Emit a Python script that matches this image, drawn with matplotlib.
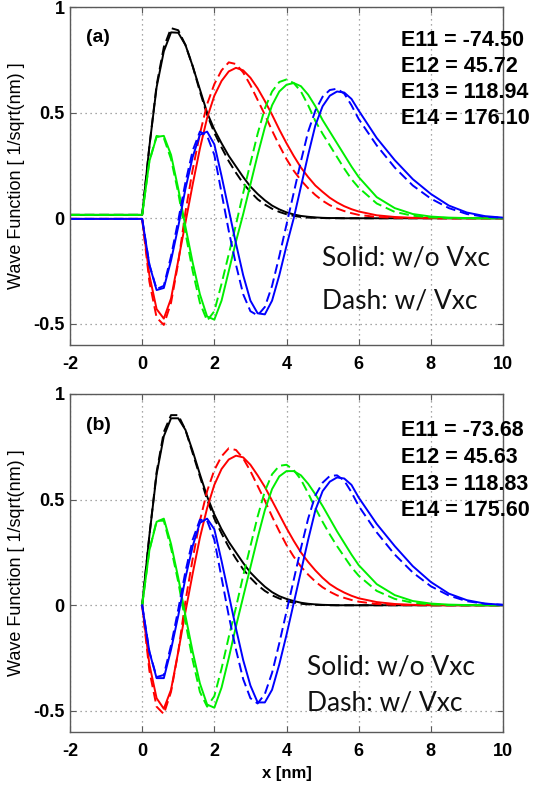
import matplotlib
matplotlib.use("Agg")
import matplotlib.pyplot as plt

# ---------------- data ----------------
x_a = [-2, 0, 0.2, 0.4, 0.6, 0.8, 1.0, 1.2, 1.4, 1.6, 1.8, 2.0, 2.2, 2.4, 2.6, 2.8,
       3.0, 3.2, 3.4, 3.6, 3.8, 4.0, 4.2, 4.4, 4.6, 4.8, 5.0, 5.2, 5.4, 5.6, 5.8,
       6.0, 6.5, 7.0, 7.5, 8.0, 8.5, 9.0, 9.5, 10.0]
x_b = x_a[1:]

# panel (a)  solid = w/o Vxc, dash = w/ Vxc
black_solid_a = [0.016, 0.016, 0.34, 0.62, 0.79, 0.88, 0.878, 0.82, 0.72, 0.61, 0.50, 0.42, 0.355,
                 0.295, 0.245, 0.195, 0.15, 0.115, 0.085, 0.06, 0.042, 0.028, 0.018, 0.011, 0.007,
                 0.004, 0.002, 0.001, 0.001, 0, 0, 0, 0, 0, 0, 0, 0, 0, 0, 0]
black_dash_a = [0.016, 0.016, 0.34, 0.63, 0.81, 0.90, 0.89, 0.82, 0.72, 0.60, 0.49, 0.405, 0.335,
                0.27, 0.215, 0.165, 0.125, 0.09, 0.065, 0.045, 0.03, 0.019, 0.011, 0.006, 0.003,
                0.002, 0.001, 0, 0, 0, 0, 0, 0, 0, 0, 0, 0, 0, 0, 0]
red_solid_a = [-0.003, -0.003, -0.27, -0.43, -0.475, -0.38, -0.20, -0.02, 0.16, 0.33, 0.475, 0.58,
               0.65, 0.695, 0.712, 0.70, 0.665, 0.615, 0.555, 0.49, 0.42, 0.355, 0.295, 0.24, 0.195,
               0.155, 0.125, 0.097, 0.075, 0.057, 0.043, 0.032, 0.014, 0.006, 0.002, 0.001, 0, 0, 0, 0]
red_dash_a = [-0.003, -0.003, -0.30, -0.47, -0.505, -0.40, -0.21, 0.03, 0.23, 0.40, 0.54, 0.635,
              0.70, 0.738, 0.73, 0.69, 0.63, 0.56, 0.49, 0.415, 0.345, 0.28, 0.225, 0.18, 0.142,
              0.11, 0.083, 0.062, 0.046, 0.034, 0.024, 0.016, 0.006, 0.002, 0.001, 0, 0, 0, 0, 0]
green_solid_a = [0.016, 0.016, 0.27, 0.385, 0.39, 0.30, 0.14, -0.04, -0.21, -0.36, -0.465, -0.48,
                 -0.39, -0.25, -0.11, 0.02, 0.16, 0.30, 0.43, 0.535, 0.60, 0.632, 0.64, 0.625,
                 0.585, 0.53, 0.465, 0.41, 0.355, 0.30, 0.245, 0.195, 0.10, 0.048, 0.02, 0.008,
                 0.003, 0.001, 0, 0]
green_dash_a = [0.016, 0.016, 0.27, 0.39, 0.38, 0.28, 0.12, -0.07, -0.25, -0.40, -0.485, -0.44,
                -0.31, -0.17, -0.03, 0.12, 0.26, 0.40, 0.52, 0.60, 0.645, 0.657, 0.64, 0.60,
                0.535, 0.46, 0.40, 0.345, 0.29, 0.235, 0.185, 0.145, 0.07, 0.03, 0.012, 0.004,
                0.001, 0, 0, 0]
blue_solid_a = [-0.003, -0.003, -0.22, -0.34, -0.33, -0.20, -0.04, 0.14, 0.29, 0.395, 0.41, 0.35,
                0.20, 0.04, -0.12, -0.27, -0.39, -0.45, -0.455, -0.39, -0.27, -0.13, 0.0, 0.15,
                0.30, 0.44, 0.53, 0.58, 0.60, 0.595, 0.565, 0.51, 0.38, 0.275, 0.185, 0.115,
                0.06, 0.027, 0.01, 0.003]
blue_dash_a = [-0.003, -0.003, -0.22, -0.335, -0.32, -0.18, -0.01, 0.17, 0.32, 0.41, 0.39, 0.30,
               0.12, -0.06, -0.22, -0.36, -0.44, -0.46, -0.42, -0.32, -0.18, -0.03, 0.12, 0.27,
               0.41, 0.51, 0.575, 0.607, 0.613, 0.59, 0.535, 0.47, 0.345, 0.24, 0.155, 0.093,
               0.048, 0.02, 0.007, 0.002]

# panel (b)
black_solid_b = [0, 0.33, 0.62, 0.80, 0.885, 0.885, 0.83, 0.73, 0.62, 0.515, 0.43, 0.36, 0.30,
                 0.25, 0.20, 0.155, 0.12, 0.088, 0.062, 0.043, 0.03, 0.02, 0.012, 0.007, 0.004,
                 0.002, 0.001, 0, 0, 0, 0, 0, 0, 0, 0, 0, 0, 0, 0]
black_dash_b = [0, 0.33, 0.63, 0.82, 0.90, 0.90, 0.83, 0.72, 0.61, 0.50, 0.41, 0.34, 0.275,
                0.22, 0.17, 0.13, 0.095, 0.068, 0.047, 0.032, 0.02, 0.012, 0.007, 0.004, 0.002,
                0.001, 0, 0, 0, 0, 0, 0, 0, 0, 0, 0, 0, 0, 0]
red_solid_b = [0, -0.28, -0.44, -0.49, -0.40, -0.22, -0.03, 0.15, 0.32, 0.46, 0.57, 0.645, 0.69,
               0.708, 0.70, 0.665, 0.615, 0.56, 0.495, 0.43, 0.365, 0.305, 0.25, 0.205, 0.165,
               0.13, 0.10, 0.078, 0.06, 0.045, 0.033, 0.015, 0.006, 0.002, 0.001, 0, 0, 0, 0]
red_dash_b = [0, -0.31, -0.48, -0.515, -0.41, -0.22, 0.02, 0.22, 0.40, 0.54, 0.64, 0.705, 0.743,
              0.735, 0.695, 0.635, 0.565, 0.495, 0.42, 0.35, 0.285, 0.23, 0.183, 0.145, 0.112,
              0.085, 0.064, 0.047, 0.035, 0.025, 0.017, 0.006, 0.002, 0.001, 0, 0, 0, 0, 0]
green_solid_b = [0, 0.26, 0.395, 0.41, 0.29, 0.13, -0.05, -0.22, -0.37, -0.47, -0.485, -0.39,
                 -0.25, -0.10, 0.04, 0.18, 0.32, 0.45, 0.55, 0.61, 0.635, 0.635, 0.615, 0.575,
                 0.525, 0.47, 0.41, 0.35, 0.295, 0.24, 0.19, 0.10, 0.048, 0.02, 0.008, 0.003,
                 0.001, 0, 0]
green_dash_b = [0, 0.26, 0.40, 0.40, 0.27, 0.11, -0.08, -0.26, -0.41, -0.48, -0.43, -0.30, -0.15,
                -0.01, 0.14, 0.28, 0.42, 0.54, 0.62, 0.66, 0.665, 0.64, 0.595, 0.53, 0.46, 0.395,
                0.335, 0.28, 0.23, 0.18, 0.14, 0.068, 0.03, 0.012, 0.004, 0.001, 0, 0, 0]
blue_solid_b = [0, -0.22, -0.345, -0.345, -0.21, -0.05, 0.13, 0.28, 0.39, 0.41, 0.36, 0.21, 0.05,
                -0.11, -0.26, -0.38, -0.46, -0.46, -0.40, -0.28, -0.14, 0.01, 0.16, 0.31, 0.45,
                0.54, 0.585, 0.605, 0.60, 0.57, 0.51, 0.385, 0.28, 0.185, 0.11, 0.055, 0.024,
                0.008, 0.002]
blue_dash_b = [0, -0.22, -0.34, -0.33, -0.19, -0.02, 0.16, 0.31, 0.405, 0.40, 0.31, 0.13, -0.05,
               -0.21, -0.35, -0.44, -0.465, -0.42, -0.32, -0.18, -0.03, 0.12, 0.27, 0.41, 0.52,
               0.58, 0.612, 0.615, 0.59, 0.535, 0.47, 0.345, 0.24, 0.155, 0.09, 0.046, 0.019,
               0.007, 0.002]

energies_a = ["E11 = -74.50", "E12 = 45.72", "E13 = 118.94", "E14 = 176.10"]
energies_b = ["E11 = -73.68", "E12 = 45.63", "E13 = 118.83", "E14 = 175.60"]
panel_tags = ["(a)", "(b)"]
x_ticks = [-2, 0, 2, 4, 6, 8, 10]
y_ticks = [-0.5, 0, 0.5, 1]
y_tick_labels = ["-0.5", "0", "0.5", "1"]
legend_lines = ["Solid: w/o Vxc", "Dash: w/ Vxc"]

colors = {"black": "black", "red": "#ff0000", "green": "#00ee00", "blue": "#0000ff"}

# ---------------- figure ----------------
W, H = 539, 785
plt.rcParams['font.family'] = ['Liberation Sans', 'DejaVu Sans']
plt.rcParams['axes.unicode_minus'] = False
fig = plt.figure(figsize=(W / 100, H / 100), dpi=100)

def px_axes(left, top, right, bottom):
    return fig.add_axes([left / W, 1 - bottom / H, (right - left) / W, (bottom - top) / H])

ax_a = px_axes(70, 7, 503, 345)
ax_b = px_axes(70, 394, 503, 732)

panels = [
    (ax_a, x_a, [(black_solid_a, black_dash_a, "black"), (red_solid_a, red_dash_a, "red"),
                 (green_solid_a, green_dash_a, "green"), (blue_solid_a, blue_dash_a, "blue")]),
    (ax_b, x_b, [(black_solid_b, black_dash_b, "black"), (red_solid_b, red_dash_b, "red"),
                 (green_solid_b, green_dash_b, "green"), (blue_solid_b, blue_dash_b, "blue")]),
]

frame_col = "#5a5a5a"
for ax, xs, series in panels:
    for solid, dash, c in series:
        ax.plot(xs, solid, color=colors[c], lw=1.4, solid_joinstyle='round')
        ax.plot(xs, dash, color=colors[c], lw=1.4, ls=(0, (5, 2.5)))
    ax.set_xlim(-2, 10)
    ax.set_ylim(-0.6, 1)
    ax.set_xticks(x_ticks)
    ax.set_xticklabels([str(t) for t in x_ticks])
    ax.set_yticks(y_ticks)
    ax.set_yticklabels(y_tick_labels)
    ax.grid(True, ls=(0, (1, 3)), color="#8a8a8a", lw=0.9)
    ax.tick_params(direction='in', length=4, width=0.8, color=frame_col,
                   top=True, right=True, labelsize=13)
    ax.tick_params(axis='x', pad=8)
    ax.tick_params(axis='y', pad=4)
    for lab in ax.get_xticklabels() + ax.get_yticklabels():
        lab.set_fontweight('bold')
    for sp in ax.spines.values():
        sp.set_color(frame_col)
        sp.set_linewidth(1.0)
    ax.set_ylabel("Wave Function [ 1/sqrt(nm) ]", fontsize=13, labelpad=6)

ax_b.set_xlabel("x [nm]", fontsize=12, fontweight='bold', labelpad=4)

def ftext(x, y, s, **kw):
    fig.text(x / W, 1 - y / H, s, **kw)

ftext(86, 37, panel_tags[0], fontsize=14, fontweight='bold', va='center')
ftext(86, 426, panel_tags[1], fontsize=14, fontweight='bold', va='center')

for i, s in enumerate(energies_a):
    ftext(401, 40 + 26 * i, s, fontsize=15.5, fontweight='bold', va='center')
for i, s in enumerate(energies_b):
    ftext(401, 431 + 26.5 * i, s, fontsize=15.5, fontweight='bold', va='center')

leg_font = ['Lato', 'DejaVu Sans']
ftext(322, 258, legend_lines[0], fontsize=19, family=leg_font, va='center', color='#111111')
ftext(322, 301, legend_lines[1], fontsize=19, family=leg_font, va='center', color='#111111')
ftext(307, 667, legend_lines[0], fontsize=19, family=leg_font, va='center', color='#111111')
ftext(307, 703, legend_lines[1], fontsize=19, family=leg_font, va='center', color='#111111')

fig.savefig("out.png", dpi=100)
